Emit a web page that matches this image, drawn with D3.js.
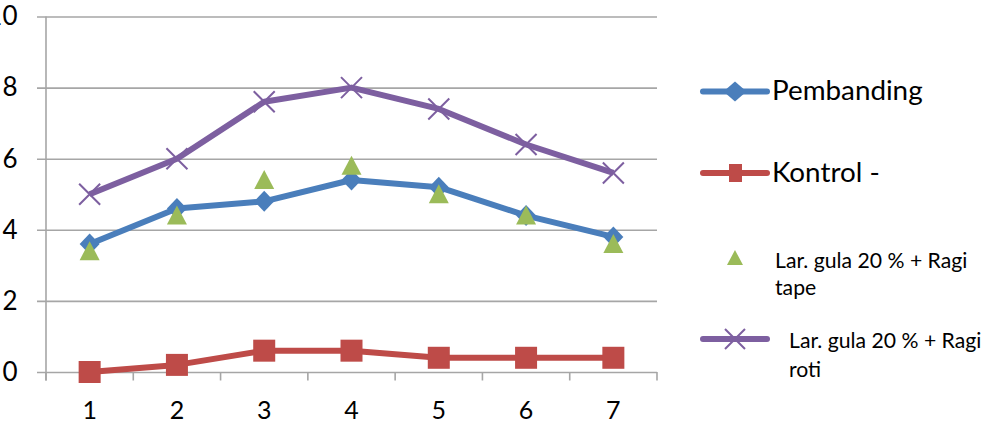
<!DOCTYPE html>
<html><head><meta charset="utf-8">
<script src="https://cdn.jsdelivr.net/npm/d3@7"></script>
<style>body{margin:0;background:#fff}svg{display:block}</style>
</head><body>
<svg id="c" width="986" height="424"></svg>
<script>
const categories = ["1","2","3","4","5","6","7"];
const yTicks = [0,2,4,6,8,10];
const pembanding = [3.6,4.6,4.8,5.4,5.2,4.4,3.8];
const kontrol = [0,0.2,0.6,0.6,0.4,0.4,0.4];
const ragiTape = [3.4,4.4,5.4,5.8,5.0,4.4,3.6];
const ragiRoti = [5.0,6.0,7.6,8.0,7.4,6.4,5.6];
const seriesNames = ["Pembanding","Kontrol -","Lar. gula 20 % + Ragi tape","Lar. gula 20 % + Ragi roti"];

const svg = d3.select("#c");
const F = "Lato, 'Open Sans', sans-serif";
const L = 46, R = 657, T = 16.5, B = 372;
const x = d3.scaleBand().domain(categories).range([L, R]);
const y = d3.scaleLinear().domain([0, 10]).range([B, T]);
const cx = (d, i) => x(categories[i]) + x.bandwidth() / 2;
const grid = "#a6a6a6";

// gridlines
svg.append("g").attr("transform", `translate(${R},0)`)
  .call(d3.axisLeft(y).tickValues(yTicks).tickSize(R - 37).tickFormat(""))
  .call(g => { g.select(".domain").remove(); g.selectAll("line").attr("stroke", grid).attr("stroke-width", 1.6); });

// y axis
svg.append("g").attr("transform", `translate(${L},0)`)
  .call(d3.axisLeft(y).tickValues(yTicks).tickSizeInner(0).tickSizeOuter(0).tickPadding(28.5).tickFormat(d3.format("d")))
  .call(g => {
    g.select(".domain").remove();
    g.selectAll("text").attr("font-family", F).attr("font-size", 26).attr("fill", "#000");
  });
svg.append("line").attr("x1", L).attr("x2", L).attr("y1", T).attr("y2", B + 8.5).attr("stroke", grid).attr("stroke-width", 1.6);

// x axis
const edges = categories.map(c => x(c)).concat([R]);
svg.append("g").selectAll("line").data(edges).join("line")
  .attr("x1", d => d).attr("x2", d => d).attr("y1", B).attr("y2", B + 8.5)
  .attr("stroke", grid).attr("stroke-width", 1.6);
svg.append("g").attr("transform", `translate(0,${B})`)
  .call(d3.axisBottom(x).tickSize(0))
  .call(g => {
    g.select(".domain").remove();
    g.selectAll("text").attr("font-family", F).attr("font-size", 25).attr("fill", "#000")
      .attr("y", 38).attr("dy", "0.36em");
  });

const colors = {blue:"#4a7ebb", red:"#be4b48", green:"#9bbb59", purple:"#7d5fa0"};
const line = d3.line().x(cx).y(d => y(d));
const lw = 6;

function drawLine(data, col) {
  svg.append("path").datum(data).attr("d", line).attr("fill", "none")
    .attr("stroke", col).attr("stroke-width", lw).attr("stroke-linejoin", "round");
}
drawLine(ragiRoti, colors.purple);
drawLine(pembanding, colors.blue);
drawLine(kontrol, colors.red);

// markers
svg.append("g").selectAll("path").data(ragiRoti).join("path")
  .attr("transform", (d, i) => `translate(${cx(d, i)},${y(d)})`)
  .attr("d", "M-10.5,-10.5L10.5,10.5M-10.5,10.5L10.5,-10.5").attr("stroke", colors.purple).attr("stroke-width", 2).attr("fill", "none");
svg.append("g").selectAll("path").data(pembanding).join("path")
  .attr("transform", (d, i) => `translate(${cx(d, i)},${y(d)})`)
  .attr("d", "M0,-10.5L10,0L0,10.5L-10,0Z").attr("fill", colors.blue);
svg.append("g").selectAll("rect").data(kontrol).join("rect")
  .attr("x", (d, i) => cx(d, i) - 11).attr("y", d => y(d) - 11).attr("width", 22).attr("height", 22)
  .attr("fill", colors.red);
svg.append("g").selectAll("path").data(ragiTape).join("path")
  .attr("transform", (d, i) => `translate(${cx(d, i)},${y(d)})`)
  .attr("d", "M0,-10L10,9L-10,9Z").attr("fill", colors.green);

// legend
const lg = svg.append("g");
function legLine(yy, col) {
  lg.append("line").attr("x1", 703).attr("x2", 767).attr("y1", yy).attr("y2", yy)
    .attr("stroke", col).attr("stroke-width", 6).attr("stroke-linecap", "round");
}
legLine(91.5, colors.blue);
lg.append("path").attr("transform", "translate(735,91.5)").attr("d", "M0,-10L11.5,0L0,10L-11.5,0Z").attr("fill", colors.blue);
lg.append("text").attr("x", 772).attr("y", 100).attr("font-family", F).attr("font-size", 27.8).text(seriesNames[0]);
legLine(173, colors.red);
lg.append("rect").attr("x", 729).attr("y", 164).attr("width", 13).attr("height", 18).attr("fill", colors.red);
lg.append("text").attr("x", 772).attr("y", 182).attr("font-family", F).attr("font-size", 27.8).text(seriesNames[1]);
lg.append("path").attr("transform", "translate(735,258)").attr("d", "M0,-8L8,7L-8,7Z").attr("fill", colors.green);
const t3 = lg.append("text").attr("font-family", F).attr("font-size", 21.2);
t3.append("tspan").attr("x", 775).attr("y", 268).text("Lar. gula 20 % + Ragi");
t3.append("tspan").attr("x", 775).attr("y", 295).text("tape");
legLine(339, colors.purple);
lg.append("path").attr("transform", "translate(735,339)").attr("d", "M-10,-10L10,10M-10,10L10,-10").attr("stroke", colors.purple).attr("stroke-width", 2);
const t4 = lg.append("text").attr("font-family", F).attr("font-size", 21.2);
t4.append("tspan").attr("x", 789).attr("y", 348).text("Lar. gula 20 % + Ragi");
t4.append("tspan").attr("x", 789).attr("y", 377).text("roti");
</script>
</body></html>
